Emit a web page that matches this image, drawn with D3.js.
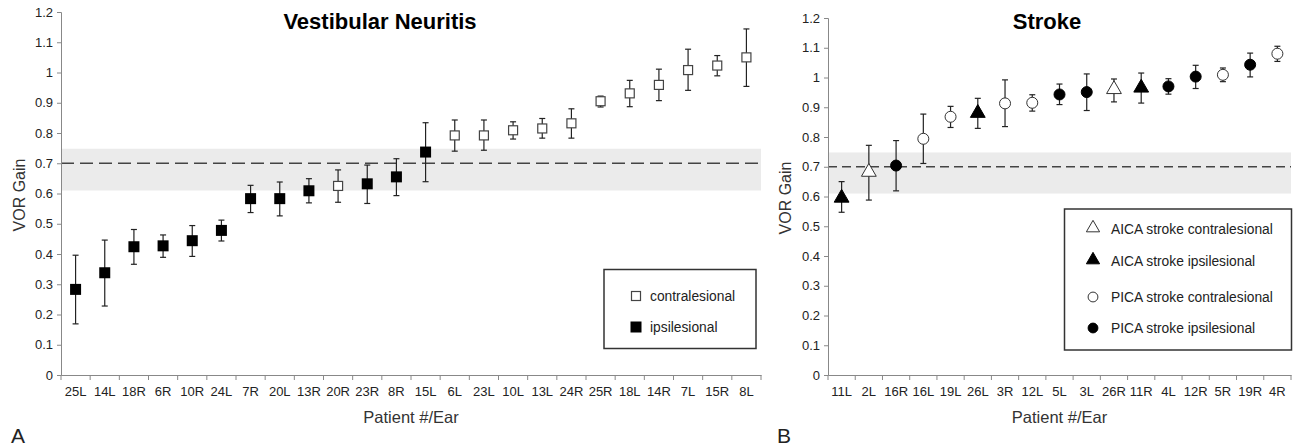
<!DOCTYPE html>
<html>
<head>
<meta charset="utf-8">
<script src="https://cdn.jsdelivr.net/npm/d3@7"></script>
<style>
body { margin: 0; background: #fff; }
svg { font-family: "Liberation Sans", Arial, sans-serif; }
.tick text { fill: #222; }
</style>
</head>
<body>
<svg width="1299" height="448"></svg>
<script>
// panel A: vestibular neuritis
var vnEars = ["25L","14L","18R","6R","10R","24L","7R","20L","13R","20R","23R","8R","15L","6L","23L","10L","13L","24R","25R","18L","14R","7L","15R","8L"];
var vnGain = [0.283,0.338,0.424,0.427,0.444,0.478,0.583,0.583,0.609,0.625,0.632,0.655,0.737,0.792,0.792,0.809,0.815,0.832,0.905,0.931,0.959,1.008,1.023,1.050];
var vnHigh = [0.396,0.446,0.481,0.463,0.494,0.512,0.627,0.638,0.649,0.678,0.694,0.715,0.834,0.843,0.843,0.837,0.848,0.880,0.922,0.974,1.011,1.077,1.056,1.144];
var vnLow  = [0.169,0.228,0.366,0.389,0.392,0.443,0.537,0.526,0.569,0.571,0.567,0.593,0.639,0.740,0.743,0.780,0.783,0.783,0.886,0.887,0.907,0.941,0.989,0.954];
var vnSide = ["ipsi","ipsi","ipsi","ipsi","ipsi","ipsi","ipsi","ipsi","ipsi","contra","ipsi","ipsi","ipsi","contra","contra","contra","contra","contra","contra","contra","contra","contra","contra","contra"];

// panel B: stroke
var stEars = ["11L","2L","16R","16L","19L","26L","3R","12L","5L","3L","26R","11R","4L","12R","5R","19R","4R"];
var stGain = [0.592,0.679,0.704,0.794,0.868,0.877,0.913,0.915,0.943,0.951,0.957,0.962,0.970,1.003,1.009,1.043,1.080];
var stHigh = [0.650,0.772,0.788,0.877,0.903,0.930,0.992,0.942,0.978,1.012,0.995,1.015,0.996,1.041,1.032,1.082,1.105];
var stLow  = [0.547,0.588,0.619,0.711,0.832,0.829,0.835,0.887,0.909,0.889,0.918,0.914,0.944,0.963,0.986,1.002,1.054];
var stType = ["aicaIpsi","aicaContra","picaIpsi","picaContra","picaContra","aicaIpsi","picaContra","picaContra","picaIpsi","picaIpsi","aicaContra","aicaIpsi","picaIpsi","picaIpsi","picaContra","picaIpsi","picaContra"];

var yTicks = [0,0.1,0.2,0.3,0.4,0.5,0.6,0.7,0.8,0.9,1,1.1,1.2];
var normal = 0.7, bandLo = 0.61, bandHi = 0.748;

var svg = d3.select("svg");

function panel(opt) {
  var g = svg.append("g");
  var x = d3.scaleBand().domain(opt.ears).range([opt.x0, opt.x1]);
  var y = d3.scaleLinear().domain([0, 1.2]).range([375, opt.top]);

  g.append("rect")
    .attr("x", opt.x0).attr("width", opt.x1 - opt.x0)
    .attr("y", y(bandHi)).attr("height", y(bandLo) - y(bandHi))
    .attr("fill", "#ebebeb");
  g.append("line")
    .attr("x1", opt.x0).attr("x2", opt.x1)
    .attr("y1", y(normal)).attr("y2", y(normal))
    .attr("stroke", "#444").attr("stroke-width", 1.3)
    .attr("stroke-dasharray", opt.dash);

  var ya = g.append("g").attr("transform", "translate(" + opt.x0 + ",0)")
    .call(d3.axisLeft(y).tickValues(yTicks).tickSize(4).tickPadding(4)
      .tickFormat(function(d){ return d3.format("")(+d.toFixed(1)); }));
  var xa = g.append("g").attr("transform", "translate(0,375)")
    .call(d3.axisBottom(x).tickSize(0).tickPadding(12));
  [ya, xa].forEach(function(a){
    a.select(".domain").attr("stroke", "#888");
    a.selectAll("line").attr("stroke", "#888");
    a.selectAll("text").attr("font-size", 13).attr("font-family", "Liberation Sans, Arial");
  });
  // category boundary ticks
  g.selectAll(".bt").data(opt.ears.concat(["end"])).enter().append("line")
    .attr("x1", function(d, i){ return opt.x0 + i * x.bandwidth(); })
    .attr("x2", function(d, i){ return opt.x0 + i * x.bandwidth(); })
    .attr("y1", 375).attr("y2", 380).attr("stroke", "#888");

  // error bars
  var cx = function(i){ return x(opt.ears[i]) + x.bandwidth() / 2; };
  opt.ears.forEach(function(e, i){
    var c = cx(i);
    g.append("line").attr("x1", c).attr("x2", c)
      .attr("y1", y(opt.high[i])).attr("y2", y(opt.low[i]))
      .attr("stroke", "#222").attr("stroke-width", 1.2);
    [opt.high[i], opt.low[i]].forEach(function(v){
      g.append("line").attr("x1", c - 3).attr("x2", c + 3)
        .attr("y1", y(v)).attr("y2", y(v))
        .attr("stroke", "#222").attr("stroke-width", 1.2);
    });
  });

  opt.ears.forEach(function(e, i){
    opt.marker(g, cx(i), y(opt.gain[i]), opt.kind[i]);
  });

  g.append("text").attr("x", opt.titleX).attr("y", 29)
    .attr("text-anchor", "middle").attr("font-size", 22).attr("font-weight", "bold")
    .text(opt.title);
  g.append("text").attr("x", (opt.x0 + opt.x1) / 2).attr("y", 423)
    .attr("text-anchor", "middle").attr("font-size", 16.5).attr("fill", "#333")
    .text("Patient #/Ear");
  g.append("text")
    .attr("transform", "translate(" + opt.yTitleX + "," + opt.yTitleY + ") rotate(-90)")
    .attr("text-anchor", "middle").attr("font-size", 16).attr("fill", "#333")
    .text("VOR Gain");
  g.append("text").attr("x", opt.letterX).attr("y", 443)
    .attr("font-size", 21).attr("fill", "#222").text(opt.letter);

  return g;
}

function square(g, x, y, kind) {
  if (kind === "ipsi") {
    g.append("rect").attr("x", x - 5.5).attr("y", y - 5.5).attr("width", 11).attr("height", 11)
      .attr("fill", "#000");
  } else {
    g.append("rect").attr("x", x - 4.5).attr("y", y - 4.5).attr("width", 9).attr("height", 9)
      .attr("fill", "#fff").attr("stroke", "#444").attr("stroke-width", 1.2);
  }
}

var tri = d3.symbol().type(d3.symbolTriangle);
function strokeMark(g, x, y, kind, scale) {
  var s = scale || 1;
  var filled = kind.indexOf("Ipsi") > 0;
  if (kind.indexOf("aica") === 0) {
    g.append("path").attr("d", tri.size(filled ? 95 * s : 95 * s)())
      .attr("transform", "translate(" + x + "," + (y - 1) + ")")
      .attr("fill", filled ? "#000" : "#fff").attr("stroke", filled ? "#000" : "#333").attr("stroke-width", 1);
  } else {
    g.append("circle").attr("cx", x).attr("cy", y).attr("r", 5.5 * Math.sqrt(s))
      .attr("fill", filled ? "#000" : "#fff").attr("stroke", filled ? "#000" : "#333").attr("stroke-width", 1);
  }
}

panel({ ears: vnEars, gain: vnGain, high: vnHigh, low: vnLow, kind: vnSide,
  x0: 61, x1: 761, top: 12, dash: "13,6", marker: square,
  title: "Vestibular Neuritis", titleX: 380, yTitleX: 25, yTitleY: 195,
  letter: "A", letterX: 11 });

panel({ ears: stEars, gain: stGain, high: stHigh, low: stLow, kind: stType,
  x0: 828, x1: 1291, top: 18, dash: "9,5", marker: strokeMark,
  title: "Stroke", titleX: 1047, yTitleX: 791, yTitleY: 198,
  letter: "B", letterX: 777 });

// legends
var legA = [["contra", "contralesional"], ["ipsi", "ipsilesional"]];
var la = svg.append("g");
la.append("rect").attr("x", 604).attr("y", 269.5).attr("width", 152).attr("height", 79)
  .attr("fill", "#fff").attr("stroke", "#333").attr("stroke-width", 1.5);
legA.forEach(function(d, i){
  var yy = 296 + i * 31;
  square(la, 636, yy, d[0]);
  la.append("text").attr("x", 650).attr("y", yy + 5).attr("font-size", 13.8).attr("fill", "#222").text(d[1]);
});

var legB = [["aicaContra", "AICA stroke contralesional"], ["aicaIpsi", "AICA stroke ipsilesional"],
            ["picaContra", "PICA stroke contralesional"], ["picaIpsi", "PICA stroke ipsilesional"]];
var legBy = [229, 261, 297, 328];
var lb = svg.append("g");
lb.append("rect").attr("x", 1064.5).attr("y", 209).attr("width", 227).attr("height", 141)
  .attr("fill", "#fff").attr("stroke", "#333").attr("stroke-width", 1.5);
legB.forEach(function(d, i){
  strokeMark(lb, 1093, legBy[i], d[0], 0.8);
  lb.append("text").attr("x", 1111).attr("y", legBy[i] + 5).attr("font-size", 13.8).attr("fill", "#222").text(d[1]);
});
</script>
</body>
</html>
